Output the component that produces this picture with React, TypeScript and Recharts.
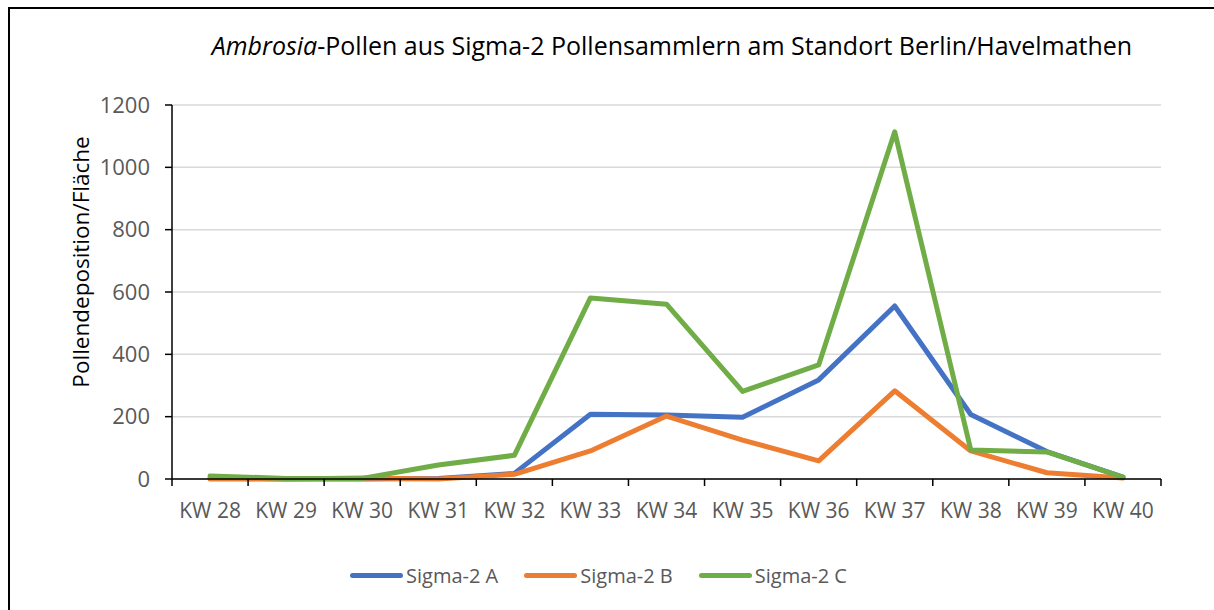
import React from "react";
import { CartesianGrid, Label, Legend, Line, LineChart, XAxis, YAxis } from "recharts";

const weeks = ["KW 28", "KW 29", "KW 30", "KW 31", "KW 32", "KW 33", "KW 34", "KW 35", "KW 36", "KW 37", "KW 38", "KW 39", "KW 40"];
const sigmaA = [3, 0, 0, 2, 18, 208, 205, 198, 318, 555, 207, 88, 6];
const sigmaB = [0, 0, 3, 0, 15, 90, 202, 125, 58, 283, 90, 20, 3];
const sigmaC = [10, 2, 2, 45, 76, 581, 561, 281, 366, 1114, 93, 87, 6];
const yTicks = [0, 200, 400, 600, 800, 1000, 1200];

const series = [
  { key: "a", name: "Sigma-2 A", color: "#4472C4" },
  { key: "b", name: "Sigma-2 B", color: "#ED7D31" },
  { key: "c", name: "Sigma-2 C", color: "#70AD47" },
];

const data = weeks.map((week, i) => ({ week, a: sigmaA[i], b: sigmaB[i], c: sigmaC[i] }));

const W = 1214;
const H = 610;
const margin = { top: 105, right: 53, left: 0, bottom: 56 };
const Y_AXIS_W = 172;
const BAND = (W - margin.left - Y_AXIS_W - margin.right) / weeks.length;
const FONT = "'Open Sans', 'Noto Sans', sans-serif";
const GREY = "#595959";

function XTick(props: any) {
  const { x, y, payload, index } = props;
  const last = index === weeks.length - 1;
  return (
    <g>
      <line x1={x - BAND / 2} x2={x - BAND / 2} y1={y} y2={y + 7} stroke="#000" strokeWidth={1.5} />
      {last && <line x1={x + BAND / 2} x2={x + BAND / 2} y1={y} y2={y + 7} stroke="#000" strokeWidth={1.5} />}
      <text x={x} y={y + 39} textAnchor="middle" fill={GREY} fontSize={21} fontFamily={FONT}>
        {payload.value}
      </text>
    </g>
  );
}

function YTitle(props: any) {
  const { viewBox } = props;
  const cx = viewBox.x + 80;
  const cy = viewBox.y + viewBox.height / 2 - 30;
  return (
    <text
      x={cx}
      y={cy}
      transform={`rotate(-90, ${cx}, ${cy})`}
      textAnchor="middle"
      dominantBaseline="central"
      fill="#000"
      fontSize={22.5}
      fontFamily={FONT}
    >
      Pollendeposition/Fläche
    </text>
  );
}

function LegendBox() {
  return (
    <div
      style={{
        display: "flex",
        justifyContent: "center",
        alignItems: "center",
        gap: 26,
        height: 30,
        fontFamily: FONT,
        fontSize: 20,
        color: GREY,
      }}
    >
      {series.map((s) => (
        <div key={s.key} style={{ display: "flex", alignItems: "center" }}>
          <span
            style={{ display: "inline-block", width: 53, height: 5, borderRadius: 3, background: s.color, marginRight: 3 }}
          />
          <span>{s.name}</span>
        </div>
      ))}
    </div>
  );
}

export default function App() {
  return (
    <div style={{ position: "absolute", left: 0, top: 0, width: W, height: H, overflow: "hidden", background: "#fff" }}>
      <div
        style={{ position: "absolute", left: 8, top: 7, width: W + 100, height: H + 100, border: "2px solid #000", boxSizing: "border-box" }}
      />
      <div
        style={{
          position: "absolute",
          left: 172,
          top: 28,
          width: 1000,
          textAlign: "center",
          fontFamily: FONT,
          fontSize: 25,
          color: "#000",
          whiteSpace: "nowrap",
        }}
      >
        <i>Ambrosia</i>-Pollen aus Sigma-2 Pollensammlern am Standort Berlin/Havelmathen
      </div>
      <div style={{ position: "absolute", left: 0, top: 0 }}>
        <LineChart width={W} height={H} data={data} margin={margin}>
          <CartesianGrid vertical={false} stroke="#d9d9d9" strokeWidth={1.5} />
          <XAxis
            dataKey="week"
            interval={0}
            height={45}
            padding={{ left: BAND / 2, right: BAND / 2 }}
            axisLine={{ stroke: "#000", strokeWidth: 1.5 }}
            tickLine={false}
            tickSize={0}
            tickMargin={0}
            tick={<XTick />}
          />
          <YAxis
            width={Y_AXIS_W}
            domain={[0, 1200]}
            ticks={yTicks}
            interval={0}
            axisLine={{ stroke: "#000", strokeWidth: 1.5 }}
            tickLine={{ stroke: "#000", strokeWidth: 1.5 }}
            tickSize={7}
            tickMargin={15}
            tick={{ fill: GREY, fontSize: 22, fontFamily: FONT }}
          >
            <Label content={<YTitle />} />
          </YAxis>
          <Legend verticalAlign="bottom" content={<LegendBox />} wrapperStyle={{ left: 0, width: 1197, top: 560 }} />
          {series.map((s) => (
            <Line
              key={s.key}
              type="linear"
              dataKey={s.key}
              name={s.name}
              stroke={s.color}
              strokeWidth={5}
              strokeLinejoin="round"
              strokeLinecap="round"
              dot={false}
              activeDot={false}
              isAnimationActive={false}
            />
          ))}
        </LineChart>
      </div>
    </div>
  );
}
